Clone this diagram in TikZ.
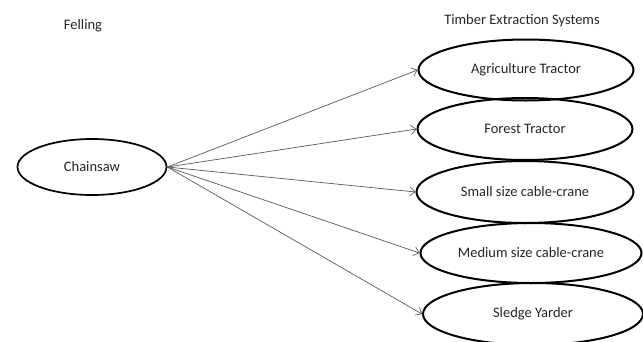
\documentclass[tikz,border=0pt]{standalone}
\usepackage{fontspec}
\setmainfont{Carlito}
\usetikzlibrary{shapes.geometric,arrows.meta}
\begin{document}
\begin{tikzpicture}[x=1pt,y=-1pt,
  oval/.style={ellipse,draw,line width=2pt,inner sep=0pt,font=\fontsize{14.5}{16}\selectfont,text=black!85},
  lbl/.style={font=\fontsize{14.5}{16}\selectfont,text=black!85},
  conn/.style={draw=black!65,line width=0.7pt,-{Straight Barb[length=5pt,width=9pt]}}]
\useasboundingbox (0,0) rectangle (643,341);
\node[lbl] (felling) at (83,26) {Felling};
\node[lbl] (tes) at (522,21) {Timber Extraction Systems};
\node[oval,line width=1.7pt,minimum width=149pt,minimum height=56pt] (chain) at (92,167) {Chainsaw};
\node[oval,minimum width=215pt,minimum height=61pt] (agri) at (526,70) {Agriculture Tractor};
\node[oval,minimum width=215pt,minimum height=62pt] (forest) at (525,129) {Forest Tractor};
\node[oval,minimum width=217pt,minimum height=62pt] (small) at (525,192) {Small size cable-crane};
\node[oval,minimum width=221pt,minimum height=60pt] (medium) at (531,253) {Medium size cable-crane};
\node[oval,minimum width=220pt,minimum height=62pt] (sledge) at (533,314) {Sledge Yarder};
\foreach \t in {agri,forest,small,medium,sledge}
  \draw[conn] (chain.east) -- (\t.west);
\end{tikzpicture}
\end{document}
